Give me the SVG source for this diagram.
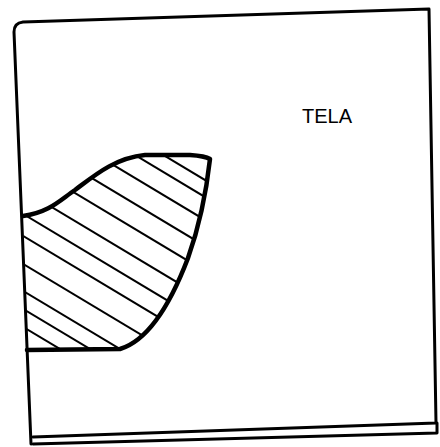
<svg xmlns="http://www.w3.org/2000/svg" width="440" height="447" viewBox="0 0 440 447">
  <style>
    .frame { fill: none; stroke: #000; stroke-width: 3; stroke-linejoin: round; stroke-linecap: round; }
    .outline { fill: none; stroke: #000; stroke-width: 4.5; stroke-linejoin: round; stroke-linecap: round; }
    .hatch { stroke: #000; stroke-width: 2; }
    .label { font-family: "Liberation Sans", Arial, sans-serif; font-size: 20px; fill: #000; }
  </style>
  <defs>
    <clipPath id="shapeClip">
      <path d="M23,216 C50,212 60,200 75,190 C95,175 115,158 145,155 L190,155 Q205,156 210,159 C206,195 198,230 188,258 C172,300 150,340 120,349 L27,350 Z"/>
    </clipPath>
  </defs>
  <rect width="440" height="447" fill="#fff"/>
  <g id="tela">
    <path class="frame" d="M31,444 L14,32 Q14,23 23,22 L429,9 L436,423 L33,437"/>
    <path class="frame" d="M33,444 L437,433 L437,423"/>
    <text class="label" x="302" y="123">TELA</text>
  </g>
  <g id="hatched-area">
    <g clip-path="url(#shapeClip)">
      <line class="hatch" x1="0" y1="57" x2="240" y2="201"/>
      <line class="hatch" x1="0" y1="74" x2="240" y2="218"/>
      <line class="hatch" x1="0" y1="97" x2="240" y2="241"/>
      <line class="hatch" x1="0" y1="123" x2="240" y2="267"/>
      <line class="hatch" x1="0" y1="148" x2="240" y2="292"/>
      <line class="hatch" x1="0" y1="176" x2="240" y2="320"/>
      <line class="hatch" x1="0" y1="200" x2="240" y2="344"/>
      <line class="hatch" x1="0" y1="222" x2="240" y2="366"/>
      <line class="hatch" x1="0" y1="250" x2="240" y2="394"/>
      <line class="hatch" x1="0" y1="277" x2="240" y2="421"/>
      <line class="hatch" x1="0" y1="295" x2="240" y2="439"/>
      <line class="hatch" x1="0" y1="313" x2="240" y2="457"/>
    </g>
    <path class="outline" d="M23,216 C50,212 60,200 75,190 C95,175 115,158 145,155 L190,155 Q205,156 210,159 C206,195 198,230 188,258 C172,300 150,340 120,349 L27,350"/>
  </g>
</svg>
